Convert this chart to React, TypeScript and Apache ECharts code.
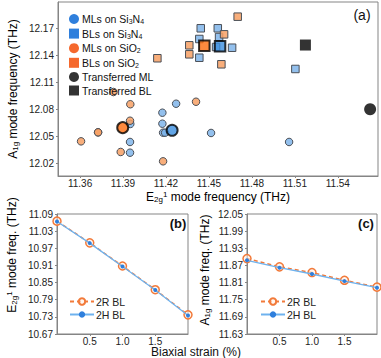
import React, { useEffect, useRef } from "react";
import * as echarts from "echarts";

// Panel (a) data: [E2g1, A1g] in THz
const mlSi3N4 = [
  [11.4271, 12.0862], [11.4175, 12.0762], [11.4175, 12.064], [11.418, 12.054],
  [11.4194, 12.054], [11.3951, 12.0637], [11.3949, 12.0437], [11.3949, 12.0318],
  [11.4515, 12.0537], [11.506, 12.0437],
];
const mlSi3N4Mean = [[11.4243, 12.0567]];
const blSi3N4 = [
  [11.4443, 12.17], [11.4562, 12.17], [11.4433, 12.1581], [11.4571, 12.1603],
  [11.455, 12.1492], [11.4662, 12.1484], [11.4433, 12.1373], [11.5104, 12.1248],
];
const blSi3N4Mean = [[11.4578, 12.15]];
const mlSiO2 = [
  [11.3833, 12.0992], [11.3951, 12.0856], [11.3949, 12.0673], [11.3726, 12.0544],
  [11.3726, 12.0544], [11.3607, 12.0444], [11.3884, 12.0326], [11.418, 12.0222],
  [11.441, 12.0884],
];
const mlSiO2Mean = [[11.3898, 12.0596]];
const blSiO2 = [
  [11.4701, 12.1829], [11.4606, 12.1633], [11.4363, 12.1511], [11.4363, 12.1411],
  [11.414, 12.1367], [11.4587, 12.13],
];
const blSiO2Mean = [[11.4468, 12.1507]];
const transferredML = [[11.5626, 12.08]];
const transferredBL = [[11.5174, 12.1514]];
const aXTicks = [11.36, 11.39, 11.42, 11.45, 11.48, 11.51, 11.54];
const aYTicks = [12.02, 12.05, 12.08, 12.11, 12.14, 12.17];

// Panels (b) and (c)
const strain = [0, 0.5, 1.0, 1.5, 2.0];
const e2g2R = [11.065, 10.989, 10.908, 10.825, 10.737];
const e2g2H = [11.064, 10.988, 10.906, 10.824, 10.735];
const a1g2R = [11.894, 11.865, 11.845, 11.818, 11.794];
const a1g2H = [11.888, 11.862, 11.840, 11.815, 11.792];
const strainTicks = [0.5, 1.0, 1.5];
const bYTicks = [10.67, 10.73, 10.79, 10.85, 10.91, 10.97, 11.03, 11.09];
const cYTicks = [11.63, 11.69, 11.75, 11.81, 11.87, 11.93, 11.99, 12.05];

const FONT = "Liberation Sans, Arial, sans-serif";
const AXIS_COLOR = "#858585";
const LIGHT_BLUE = "rgba(120,176,232,0.8)";
const LIGHT_ORANGE = "rgba(247,160,100,0.85)";
const PT_BORDER = "#4a4f57";

const pair = (xs: number[], ys: number[]) => xs.map((x, i) => [x, ys[i]]);

const richStyles = {
  t: { fontSize: 12, fontFamily: FONT, color: "#111", lineHeight: 13 },
  sub: { fontSize: 8, fontFamily: FONT, color: "#111", verticalAlign: "bottom", lineHeight: 8, padding: [5, 0, 0, 0] },
  sup: { fontSize: 8, fontFamily: FONT, color: "#111", verticalAlign: "top", lineHeight: 8, padding: [0, 0, 4, 0] },
};

const legRich = {
  t: { fontSize: 10.5, fontFamily: FONT, color: "#111", lineHeight: 12 },
  sub: { fontSize: 7, fontFamily: FONT, color: "#111", verticalAlign: "bottom", lineHeight: 7, padding: [5, 0, 0, 0] },
};

const legendFormat = (name: string) => {
  const m: Record<string, string> = {
    "MLs on Si3N4": "{t|MLs on Si}{sub|3}{t|N}{sub|4}",
    "BLs on Si3N4": "{t|BLs on Si}{sub|3}{t|N}{sub|4}",
    "MLs on SiO2": "{t|MLs on SiO}{sub|2}",
    "BLs on SiO2": "{t|BLs on SiO}{sub|2}",
  };
  return m[name] || "{t|" + name + "}";
};

function valueAxis(gridIndex: number, min: number, max: number, ticks: number[], fmt: (v: number) => string, margin: number) {
  return {
    type: "value",
    gridIndex,
    min,
    max,
    scale: true,
    axisLine: { show: true, lineStyle: { color: AXIS_COLOR, width: 1 } },
    axisTick: { show: true, inside: false, length: 2, customValues: ticks, lineStyle: { color: AXIS_COLOR } },
    axisLabel: {
      customValues: ticks,
      formatter: (v: number) => fmt(v),
      fontSize: 10,
      lineHeight: 10,
      fontFamily: FONT,
      color: "#222",
      margin,
    },
    splitLine: { show: false },
  };
}

export default function App() {
  const ref = useRef<HTMLDivElement>(null);
  useEffect(() => {
    if (!ref.current) return;
    const chart = echarts.init(ref.current, null, { renderer: "svg" });
    const pointStyle = (c: string) => ({ color: c, borderColor: PT_BORDER, borderWidth: 1, opacity: 1 });
    const option: any = {
      animation: false,
      backgroundColor: "#fff",
      grid: [
        { left: 58, top: 2, width: 320, height: 174, show: true, borderColor: AXIS_COLOR, borderWidth: 1, backgroundColor: "transparent" },
        { left: 57, top: 214, width: 131, height: 120, show: true, borderColor: AXIS_COLOR, borderWidth: 1, backgroundColor: "transparent" },
        { left: 247, top: 214, width: 130, height: 120, show: true, borderColor: AXIS_COLOR, borderWidth: 1, backgroundColor: "transparent" },
      ],
      xAxis: [
        valueAxis(0, 11.3446, 11.5681, aXTicks, (v) => v.toFixed(2), 2.5),
        valueAxis(1, 0, 2, strainTicks, (v) => v.toFixed(1), 2),
        valueAxis(2, 0, 2, strainTicks, (v) => v.toFixed(1), 2),
      ],
      yAxis: [
        valueAxis(0, 12.0059, 12.1992, aYTicks, (v) => v.toFixed(2), 4),
        valueAxis(1, 10.67, 11.09, bYTicks, (v) => v.toFixed(2), 4),
        valueAxis(2, 11.63, 12.05, cYTicks, (v) => v.toFixed(2), 4),
      ],
      legend: [
        {
          orient: "vertical",
          left: 64,
          top: 8,
          itemWidth: 10,
          itemHeight: 10,
          itemGap: 2.6,
          formatter: legendFormat,
          textStyle: { rich: legRich, padding: [0, 0, 0, -2] },
          data: [
            { name: "MLs on Si3N4", icon: "circle", itemStyle: { color: "#2f7fdc", borderWidth: 0 } },
            { name: "BLs on Si3N4", icon: "rect", itemStyle: { color: "#2f7fdc", borderWidth: 0 } },
            { name: "MLs on SiO2", icon: "circle", itemStyle: { color: "#f5682d", borderWidth: 0 } },
            { name: "BLs on SiO2", icon: "rect", itemStyle: { color: "#f5682d", borderWidth: 0 } },
            { name: "Transferred ML", icon: "circle", itemStyle: { color: "#000", borderWidth: 0 } },
            { name: "Transferred BL", icon: "rect", itemStyle: { color: "#000", borderWidth: 0 } },
          ],
        },
        {
          orient: "vertical",
          left: 64,
          top: 291,
          itemWidth: 24,
          itemHeight: 8,
          itemGap: 2,
          textStyle: { fontSize: 10.5, fontFamily: FONT, color: "#222", padding: [0, 0, 0, -3] },
          data: ["2R BL", "2H BL"],
        },
        {
          orient: "vertical",
          left: 255,
          top: 291,
          itemWidth: 24,
          itemHeight: 8,
          itemGap: 2,
          textStyle: { fontSize: 10.5, fontFamily: FONT, color: "#222", padding: [0, 0, 0, -3] },
          data: ["2R BL", "2H BL"],
        },
      ],
      series: [
        { name: "MLs on Si3N4", type: "scatter", xAxisIndex: 0, yAxisIndex: 0, symbol: "circle", symbolSize: 7.5, data: mlSi3N4, itemStyle: pointStyle(LIGHT_BLUE), z: 3 },
        { name: "BLs on Si3N4", type: "scatter", xAxisIndex: 0, yAxisIndex: 0, symbol: "rect", symbolSize: 7.5, data: blSi3N4, itemStyle: pointStyle(LIGHT_BLUE), z: 3 },
        { name: "MLs on SiO2", type: "scatter", xAxisIndex: 0, yAxisIndex: 0, symbol: "circle", symbolSize: 7.5, data: mlSiO2, itemStyle: pointStyle(LIGHT_ORANGE), z: 3 },
        { name: "BLs on SiO2", type: "scatter", xAxisIndex: 0, yAxisIndex: 0, symbol: "rect", symbolSize: 7.5, data: blSiO2, itemStyle: pointStyle(LIGHT_ORANGE), z: 3 },
        { name: "mean ML Si3N4", type: "scatter", xAxisIndex: 0, yAxisIndex: 0, symbol: "circle", symbolSize: 11, data: mlSi3N4Mean, itemStyle: { color: "#3b8fe0", borderColor: "#000", borderWidth: 2 }, z: 5 },
        { name: "mean BL Si3N4", type: "scatter", xAxisIndex: 0, yAxisIndex: 0, symbol: "rect", symbolSize: 10.5, data: blSi3N4Mean, itemStyle: { color: "#3b8fe0", borderColor: "#000", borderWidth: 2 }, z: 5 },
        { name: "mean ML SiO2", type: "scatter", xAxisIndex: 0, yAxisIndex: 0, symbol: "circle", symbolSize: 11, data: mlSiO2Mean, itemStyle: { color: "#ff6d0e", borderColor: "#000", borderWidth: 2 }, z: 5 },
        { name: "mean BL SiO2", type: "scatter", xAxisIndex: 0, yAxisIndex: 0, symbol: "rect", symbolSize: 10.5, data: blSiO2Mean, itemStyle: { color: "#ff6d0e", borderColor: "#000", borderWidth: 2 }, z: 5 },
        { name: "Transferred ML", type: "scatter", xAxisIndex: 0, yAxisIndex: 0, symbol: "circle", symbolSize: 12, data: transferredML, itemStyle: { color: "#000" }, z: 5, clip: false },
        { name: "Transferred BL", type: "scatter", xAxisIndex: 0, yAxisIndex: 0, symbol: "rect", symbolSize: 11, data: transferredBL, itemStyle: { color: "#000" }, z: 5 },

        { name: "2R BL", type: "line", xAxisIndex: 1, yAxisIndex: 1, data: pair(strain, e2g2R), symbol: "circle", symbolSize: 8, clip: false,
          lineStyle: { color: "#f27a3a", width: 1.5, type: [4, 3] }, itemStyle: { color: "rgba(255,240,230,0.6)", borderColor: "#f27a3a", borderWidth: 1.5 }, z: 3 },
        { name: "2H BL", type: "line", xAxisIndex: 1, yAxisIndex: 1, data: pair(strain, e2g2H), symbol: "circle", symbolSize: 4, clip: false,
          lineStyle: { color: "#6eb2ee", width: 1.3 }, itemStyle: { color: "#2f7fdc", borderWidth: 0 }, z: 4 },
        { name: "2R BL", type: "line", xAxisIndex: 2, yAxisIndex: 2, data: pair(strain, a1g2R), symbol: "circle", symbolSize: 8, clip: false,
          lineStyle: { color: "#f27a3a", width: 1.5, type: [4, 3] }, itemStyle: { color: "rgba(255,240,230,0.6)", borderColor: "#f27a3a", borderWidth: 1.5 }, z: 3 },
        { name: "2H BL", type: "line", xAxisIndex: 2, yAxisIndex: 2, data: pair(strain, a1g2H), symbol: "circle", symbolSize: 4, clip: false,
          lineStyle: { color: "#6eb2ee", width: 1.3 }, itemStyle: { color: "#2f7fdc", borderWidth: 0 }, z: 4 },
      ],
      graphic: [
        { type: "text", x: 362, y: 15, style: { text: "(a)", font: `14px ${FONT}`, fill: "#111", align: "center", verticalAlign: "middle" } },
        { type: "text", x: 178, y: 223, style: { text: "(b)", font: `bold 13px ${FONT}`, fill: "#111", align: "center", verticalAlign: "middle" } },
        { type: "text", x: 366, y: 223, style: { text: "(c)", font: `bold 13px ${FONT}`, fill: "#111", align: "center", verticalAlign: "middle" } },
        { type: "text", x: 13, y: 89, rotation: Math.PI / 2,
          style: { text: "{t|A}{sub|1g}{t| mode frequency (THz)}", rich: richStyles, align: "center", verticalAlign: "middle" } },
        { type: "text", x: 218, y: 197,
          style: { text: "{t|E}{sub|2g}{sup|1}{t| mode frequency (THz)}", rich: richStyles, align: "center", verticalAlign: "middle" } },
        { type: "text", x: 12, y: 255, rotation: Math.PI / 2,
          style: { text: "{t|E}{sub|2g}{sup|1}{t| mode freq. (THz)}", rich: richStyles, align: "center", verticalAlign: "middle" } },
        { type: "text", x: 205, y: 270, rotation: Math.PI / 2,
          style: { text: "{t|A}{sub|1g}{t| mode freq. (THz)}", rich: richStyles, align: "center", verticalAlign: "middle" } },
        { type: "text", x: 196, y: 352,
          style: { text: "Biaxial strain (%)", font: `12px ${FONT}`, lineHeight: 11, fill: "#111", align: "center", verticalAlign: "middle" } },
      ],
    };
    chart.setOption(option);
    return () => chart.dispose();
  }, []);
  return <div ref={ref} style={{ position: "fixed", left: 0, top: 0, width: 381, height: 358, background: "#fff" }} />;
}
